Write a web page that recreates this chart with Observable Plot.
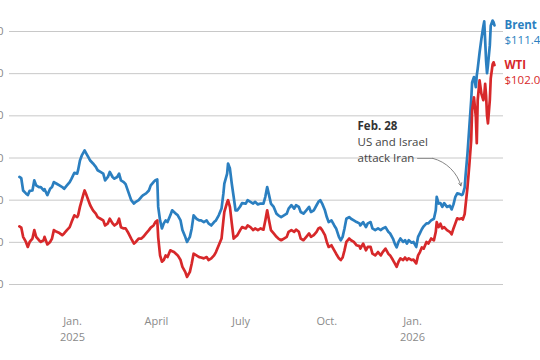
<!DOCTYPE html>
<html>
<head>
<meta charset="utf-8">
<script src="https://cdn.jsdelivr.net/npm/d3@7"></script>
<script src="https://cdn.jsdelivr.net/npm/@observablehq/plot@0.6"></script>
<style>
  html, body { margin: 0; padding: 0; background: #fff; }
  #chart svg { display: block; font-family: "Open Sans", sans-serif; }
</style>
</head>
<body>
<div id="chart"></div>
<script>
const dates = [
"2024-11-05","2024-11-07","2024-11-09","2024-11-12","2024-11-14","2024-11-16","2024-11-19","2024-11-21","2024-11-23","2024-11-26",
"2024-11-28","2024-12-01","2024-12-02","2024-12-05","2024-12-08","2024-12-10","2024-12-12","2024-12-15","2024-12-18","2024-12-21",
"2024-12-23","2024-12-26","2024-12-29","2024-12-31","2025-01-03","2025-01-06","2025-01-07","2025-01-09","2025-01-11","2025-01-13",
"2025-01-14","2025-01-16","2025-01-18","2025-01-20","2025-01-23","2025-01-26","2025-01-28","2025-01-31","2025-02-03","2025-02-05",
"2025-02-08","2025-02-10","2025-02-13","2025-02-15","2025-02-18","2025-02-20","2025-02-22","2025-02-25","2025-02-27","2025-03-02",
"2025-03-05","2025-03-08","2025-03-10","2025-03-13","2025-03-16","2025-03-18","2025-03-21","2025-03-24","2025-03-26","2025-03-29",
"2025-03-31","2025-04-02","2025-04-03","2025-04-05","2025-04-07","2025-04-09","2025-04-11","2025-04-13","2025-04-16","2025-04-18",
"2025-04-20","2025-04-22","2025-04-24","2025-04-27","2025-04-29","2025-05-02","2025-05-04","2025-05-07","2025-05-09","2025-05-11",
"2025-05-14","2025-05-17","2025-05-19","2025-05-22","2025-05-25","2025-05-27","2025-05-30","2025-06-02","2025-06-04","2025-06-07",
"2025-06-10","2025-06-12","2025-06-13","2025-06-16","2025-06-17","2025-06-19","2025-06-21","2025-06-23","2025-06-25","2025-06-27",
"2025-06-30","2025-07-02","2025-07-06","2025-07-08","2025-07-11","2025-07-14","2025-07-16","2025-07-19","2025-07-22","2025-07-25",
"2025-07-27","2025-07-29","2025-07-31","2025-08-02","2025-08-05","2025-08-08","2025-08-10","2025-08-13","2025-08-16","2025-08-19",
"2025-08-21","2025-08-24","2025-08-27","2025-08-29","2025-09-01","2025-09-03","2025-09-06","2025-09-09","2025-09-12","2025-09-14",
"2025-09-17","2025-09-20","2025-09-22","2025-09-24","2025-09-26","2025-09-29","2025-10-01","2025-10-03","2025-10-06","2025-10-09",
"2025-10-11","2025-10-14","2025-10-16","2025-10-18","2025-10-20","2025-10-22","2025-10-25","2025-10-27","2025-10-30","2025-11-02",
"2025-11-05","2025-11-06","2025-11-09","2025-11-12","2025-11-14","2025-11-17","2025-11-19","2025-11-22","2025-11-25","2025-11-28",
"2025-11-30","2025-12-03","2025-12-06","2025-12-08","2025-12-11","2025-12-13","2025-12-15","2025-12-17","2025-12-19","2025-12-22",
"2025-12-24","2025-12-26","2025-12-28","2025-12-31","2026-01-02","2026-01-05","2026-01-07","2026-01-09","2026-01-11","2026-01-13",
"2026-01-16","2026-01-18","2026-01-21","2026-01-24","2026-01-26","2026-01-27","2026-01-29","2026-01-31","2026-02-02","2026-02-04",
"2026-02-07","2026-02-10","2026-02-12","2026-02-14","2026-02-16","2026-02-18","2026-02-20","2026-02-23","2026-02-24","2026-02-26",
"2026-02-27","2026-03-01","2026-03-03","2026-03-05","2026-03-06","2026-03-08","2026-03-10","2026-03-11","2026-03-12","2026-03-14",
"2026-03-16","2026-03-18","2026-03-19","2026-03-20","2026-03-21","2026-03-22","2026-03-23","2026-03-25","2026-03-26","2026-03-28",
"2026-03-29","2026-03-30"];

const brent = [
75.5,75.2,72.3,71.6,71.2,72.2,72.3,74.7,73.5,73.1,
73.1,72.3,72.6,71.2,72.7,73.1,74.3,73.9,73.5,73.1,
72.7,73.5,74.3,75.1,76.5,76.3,77.1,79.4,80.6,81.4,
81.8,81.0,80.2,79.4,78.7,77.9,77.1,76.7,76.3,74.7,
75.5,76.7,75.5,75.1,75.5,76.3,74.7,74.3,73.8,71.9,
70.0,69.2,69.6,70.0,70.8,71.2,71.6,72.3,73.5,74.3,
74.7,74.9,68.4,65.2,63.3,64.5,65.2,64.8,66.4,67.6,
67.2,66.8,66.4,65.2,62.9,61.3,60.1,61.3,63.3,66.4,
65.6,65.2,65.2,64.8,65.2,64.5,64.0,64.8,65.2,66.4,
68.0,71.6,73.9,76.3,78.7,77.5,73.9,70.8,67.6,67.6,
68.5,69.3,69.2,70.0,69.6,69.2,69.6,69.0,69.2,69.2,
70.8,73.1,71.2,69.2,68.4,66.8,66.4,66.0,66.4,66.8,
68.0,68.8,68.0,68.8,68.4,67.2,66.8,67.6,68.4,67.2,
67.6,68.8,69.6,70.0,69.2,67.6,66.0,64.8,65.2,64.0,
63.3,61.3,60.5,61.3,63.3,65.6,66.0,65.6,65.2,64.8,
64.5,64.0,64.8,63.6,64.5,64.8,63.3,62.9,63.3,62.9,
63.3,63.6,62.5,62.1,60.9,59.7,58.8,60.1,60.9,60.1,
60.5,59.7,60.5,59.9,60.1,58.9,61.3,62.2,63.1,63.8,
64.5,64.5,65.2,65.6,67.6,70.8,69.2,69.3,68.4,69.3,
68.4,68.7,67.8,69.0,70.8,71.6,71.5,71.2,71.4,73.0,
75.9,81.0,87.3,93.7,97.9,99.2,96.8,99.6,101.2,105.0,
108.3,111.2,112.4,107.9,103.1,100.1,102.0,106.7,111.4,112.6,
112.2,111.46];

const wti = [
63.8,63.5,61.3,60.1,58.9,60.1,60.9,62.9,61.3,60.5,
60.1,60.5,61.3,59.5,60.1,60.9,62.9,62.5,62.2,61.7,
62.1,62.9,63.6,64.8,66.4,66.0,66.4,68.4,70.0,71.6,
72.3,71.2,70.0,68.8,67.6,66.8,66.0,65.6,65.2,64.0,
64.5,65.6,64.5,64.0,64.5,65.6,63.6,63.3,63.3,62.2,
60.9,59.7,60.1,60.9,60.9,61.3,62.1,62.9,63.5,64.0,
64.8,65.2,61.2,56.9,55.4,55.8,56.9,56.5,58.1,57.9,
57.7,57.3,56.9,55.8,54.2,53.0,51.8,53.0,55.0,57.3,
56.9,56.5,56.4,56.2,56.5,55.8,56.2,56.9,57.7,59.3,
60.9,65.2,67.2,69.5,70.0,68.4,64.5,60.9,61.3,61.7,
62.9,63.6,63.3,64.0,63.6,62.9,63.3,62.9,63.3,63.0,
65.2,67.6,65.2,62.9,62.1,61.3,60.9,60.5,60.9,61.3,
62.5,62.9,62.5,63.0,62.5,60.9,60.5,61.3,62.1,61.3,
61.7,62.5,63.3,63.5,62.9,61.7,60.1,58.9,59.3,58.1,
57.3,56.2,55.8,56.4,58.1,60.1,60.9,60.5,60.1,59.3,
59.1,58.5,59.7,58.1,58.9,58.9,57.3,56.9,57.7,56.9,
57.7,58.5,57.3,56.9,55.8,55.0,54.2,55.4,56.2,55.8,
56.4,55.8,56.2,55.8,55.9,55.0,56.9,57.7,58.8,58.5,
60.1,59.7,60.9,60.5,62.5,64.8,63.6,64.4,63.3,63.6,
62.9,62.5,61.9,63.3,64.5,65.7,65.5,65.7,65.4,66.7,
68.8,73.0,78.3,84.2,91.3,94.4,89.7,83.5,93.7,98.4,
95.2,93.7,94.8,97.6,94.8,90.1,88.2,93.7,98.9,102.2,
102.7,102.04];

const seriesNames = ["Brent", "WTI"];
const seriesColors = ["#2b7fc0", "#d7282a"];
const endLabels = ["$111.46", "$102.04"];

const yTicks = [50, 60, 70, 80, 90, 100, 110];
const xTickDates = ["2025-01-01", "2025-04-01", "2025-07-01", "2025-10-01", "2026-01-01"];
const xTickLabels = ["Jan.\n2025", "April", "July", "Oct.", "Jan.\n2026"];

// annotation (data coordinates)
const noteDate = "2025-11-03";
const noteTitle = "Feb. 28";
const noteLines = ["US and Israel", "attack Iran"];
const noteValues = [87.5, 83.7, 79.9];
const leaderDates = ["2026-01-06", "2026-01-23"];
const leaderValue = 79.9;
const arrowEnd = {date: "2026-02-22", value: 73.4};

const P = s => new Date(s);

const rows = [];
dates.forEach((d, i) => {
  rows.push({date: P(d), value: brent[i], series: seriesNames[0]});
  rows.push({date: P(d), value: wti[i], series: seriesNames[1]});
});
const ends = seriesNames.map((s, k) => ({
  date: P(dates[dates.length - 1]),
  value: (k === 0 ? brent : wti)[dates.length - 1],
  name: s, price: endLabels[k], color: seriesColors[k]
}));
const tickMap = new Map(xTickDates.map((d, i) => [+P(d), xTickLabels[i]]));

const chart = Plot.plot({
  width: 540,
  height: 360,
  marginLeft: 9,
  marginRight: 37,
  marginTop: 31,
  marginBottom: 76,
  style: {background: "#fff", fontFamily: "Open Sans, sans-serif"},
  x: {type: "utc", domain: [P("2025-01-01"), P("2026-01-01")], range: [72, 412]},
  y: {domain: [50, 110]},
  color: {domain: seriesNames, range: seriesColors},
  marks: [
    Plot.gridY(yTicks, {stroke: "#c8c8c8", strokeOpacity: 1, strokeWidth: 1}),
    Plot.axisY(yTicks, {tickSize: 0, tickPadding: 6, fontSize: 11, color: "#888", label: null}),
    Plot.axisX(xTickDates.map(P), {
      tickSize: 0, tickPadding: 30, fontSize: 11, color: "#8a8a8a", label: null,
      lineHeight: 1.4, tickFormat: d => tickMap.get(+d)
    }),
    Plot.lineY(rows, {x: "date", y: "value", z: "series", stroke: "series", strokeWidth: 2.7, curve: "linear"}),
    Plot.text(ends, {x: "date", y: "value", text: "name", fill: "color", dx: 10, dy: 0, textAnchor: "start", fontWeight: "bold", fontSize: 11.5}),
    Plot.text(ends, {x: "date", y: "value", text: "price", fill: "color", dx: 10, dy: 15, textAnchor: "start", fontSize: 11.5}),
    Plot.text([noteTitle], {x: P(noteDate), y: noteValues[0], textAnchor: "start", fontWeight: "bold", fontSize: 11.5, fill: "#333"}),
    Plot.text(noteLines, {x: P(noteDate), y: (d, i) => noteValues[i + 1], textAnchor: "start", fontSize: 11.5, fill: "#444"}),
    Plot.link([0], {x1: P(leaderDates[0]), x2: P(leaderDates[1]), y1: leaderValue, y2: leaderValue, stroke: "#777", strokeWidth: 0.8}),
    Plot.arrow([0], {x1: P(leaderDates[1]), y1: leaderValue, x2: P(arrowEnd.date), y2: arrowEnd.value, bend: 30, stroke: "#666", strokeWidth: 0.8, headLength: 6})
  ]
});
document.getElementById("chart").appendChild(chart);
</script>
</body>
</html>
